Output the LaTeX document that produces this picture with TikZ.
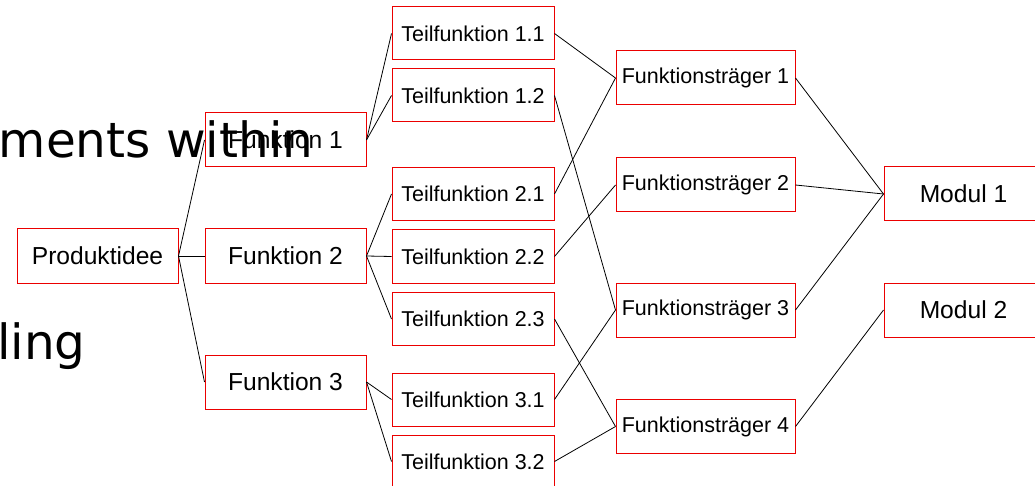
\documentclass[tikz,border=0pt]{standalone}
\usepackage{fontspec}
\setmainfont{Liberation Sans}
\newfontfamily\bigfont{DejaVu Sans}
\definecolor{boxred}{RGB}{235,0,0}
\tikzset{
  x=1pt, y=-1pt,
  box/.style={draw=boxred, line width=1pt, inner sep=0pt, minimum height=54pt, text=black},
  bigbox/.style={box, font=\fontsize{24.6}{28}\selectfont},
  smallbox/.style={box, minimum height=53pt, font=\fontsize{21.5}{25}\selectfont},
  conn/.style={draw=black, line width=0.8pt},
  bigtext/.style={anchor=base west, inner sep=0pt, font=\bigfont\fontsize{48.5}{56}\selectfont}
}
\begin{document}
\begin{tikzpicture}
\useasboundingbox (0,0) rectangle (1035,486);
% connectors drawn below the boxes
\coordinate (dummy) at (0,0);
% nodes
\node[bigbox, minimum width=161pt] (P) at (97.5,256) {Produktidee};
\node[bigbox, minimum width=161pt] (F1) at (285.5,140) {Funktion 1};
\node[bigbox, minimum width=161pt] (F2) at (285.5,256) {Funktion 2};
\node[bigbox, minimum width=161pt] (F3) at (285.5,382) {Funktion 3};
\node[smallbox, minimum width=162pt] (T11) at (473,33.5) {Teilfunktion 1.1};
\node[smallbox, minimum width=162pt] (T12) at (473,95.5) {Teilfunktion 1.2};
\node[smallbox, minimum width=162pt] (T21) at (473,194) {Teilfunktion 2.1};
\node[smallbox, minimum width=162pt] (T22) at (473,256.5) {Teilfunktion 2.2};
\node[smallbox, minimum width=162pt] (T23) at (473,319) {Teilfunktion 2.3};
\node[smallbox, minimum width=162pt] (T31) at (473,399.5) {Teilfunktion 3.1};
\node[smallbox, minimum width=162pt] (T32) at (473,461.5) {Teilfunktion 3.2};
\node[smallbox, minimum height=54pt, minimum width=179pt] (FT1) at (705.5,78) {Funktionsträger 1};
\node[smallbox, minimum height=54pt, minimum width=179pt] (FT2) at (705.5,185) {Funktionsträger 2};
\node[smallbox, minimum height=54pt, minimum width=179pt] (FT3) at (705.5,310) {Funktionsträger 3};
\node[smallbox, minimum height=54pt, minimum width=179pt] (FT4) at (705.5,426.5) {Funktionsträger 4};
\node[bigbox, minimum width=159pt] (M1) at (963.5,194) {Modul 1};
\node[bigbox, minimum width=159pt] (M2) at (963.5,310) {Modul 2};
% connectors
\draw[conn] (P.east) -- (F1.west);
\draw[conn] (P.east) -- (F2.west);
\draw[conn] (P.east) -- (F3.west);
\draw[conn] (F1.east) -- (T11.west);
\draw[conn] (F1.east) -- (T12.west);
\draw[conn] (F2.east) -- (T21.west);
\draw[conn] (F2.east) -- (T22.west);
\draw[conn] (F2.east) -- (T23.west);
\draw[conn] (F3.east) -- (T31.west);
\draw[conn] (F3.east) -- (T32.west);
\draw[conn] (T11.east) -- (FT1.west);
\draw[conn] (T12.east) -- (FT3.west);
\draw[conn] (T21.east) -- (FT1.west);
\draw[conn] (T22.east) -- (FT2.west);
\draw[conn] (T23.east) -- (FT4.west);
\draw[conn] (T31.east) -- (FT3.west);
\draw[conn] (T32.east) -- (FT4.west);
\draw[conn] (FT1.east) -- (M1.west);
\draw[conn] (FT2.east) -- (M1.west);
\draw[conn] (FT3.east) -- (M1.west);
\draw[conn] (FT4.east) -- (M2.west);
% big text fragments on top
\node[bigtext] (t1) at (-1.4,158) {ments within};
\node[bigtext] (t2) at (-3,359) {ling};
\end{tikzpicture}
\end{document}
